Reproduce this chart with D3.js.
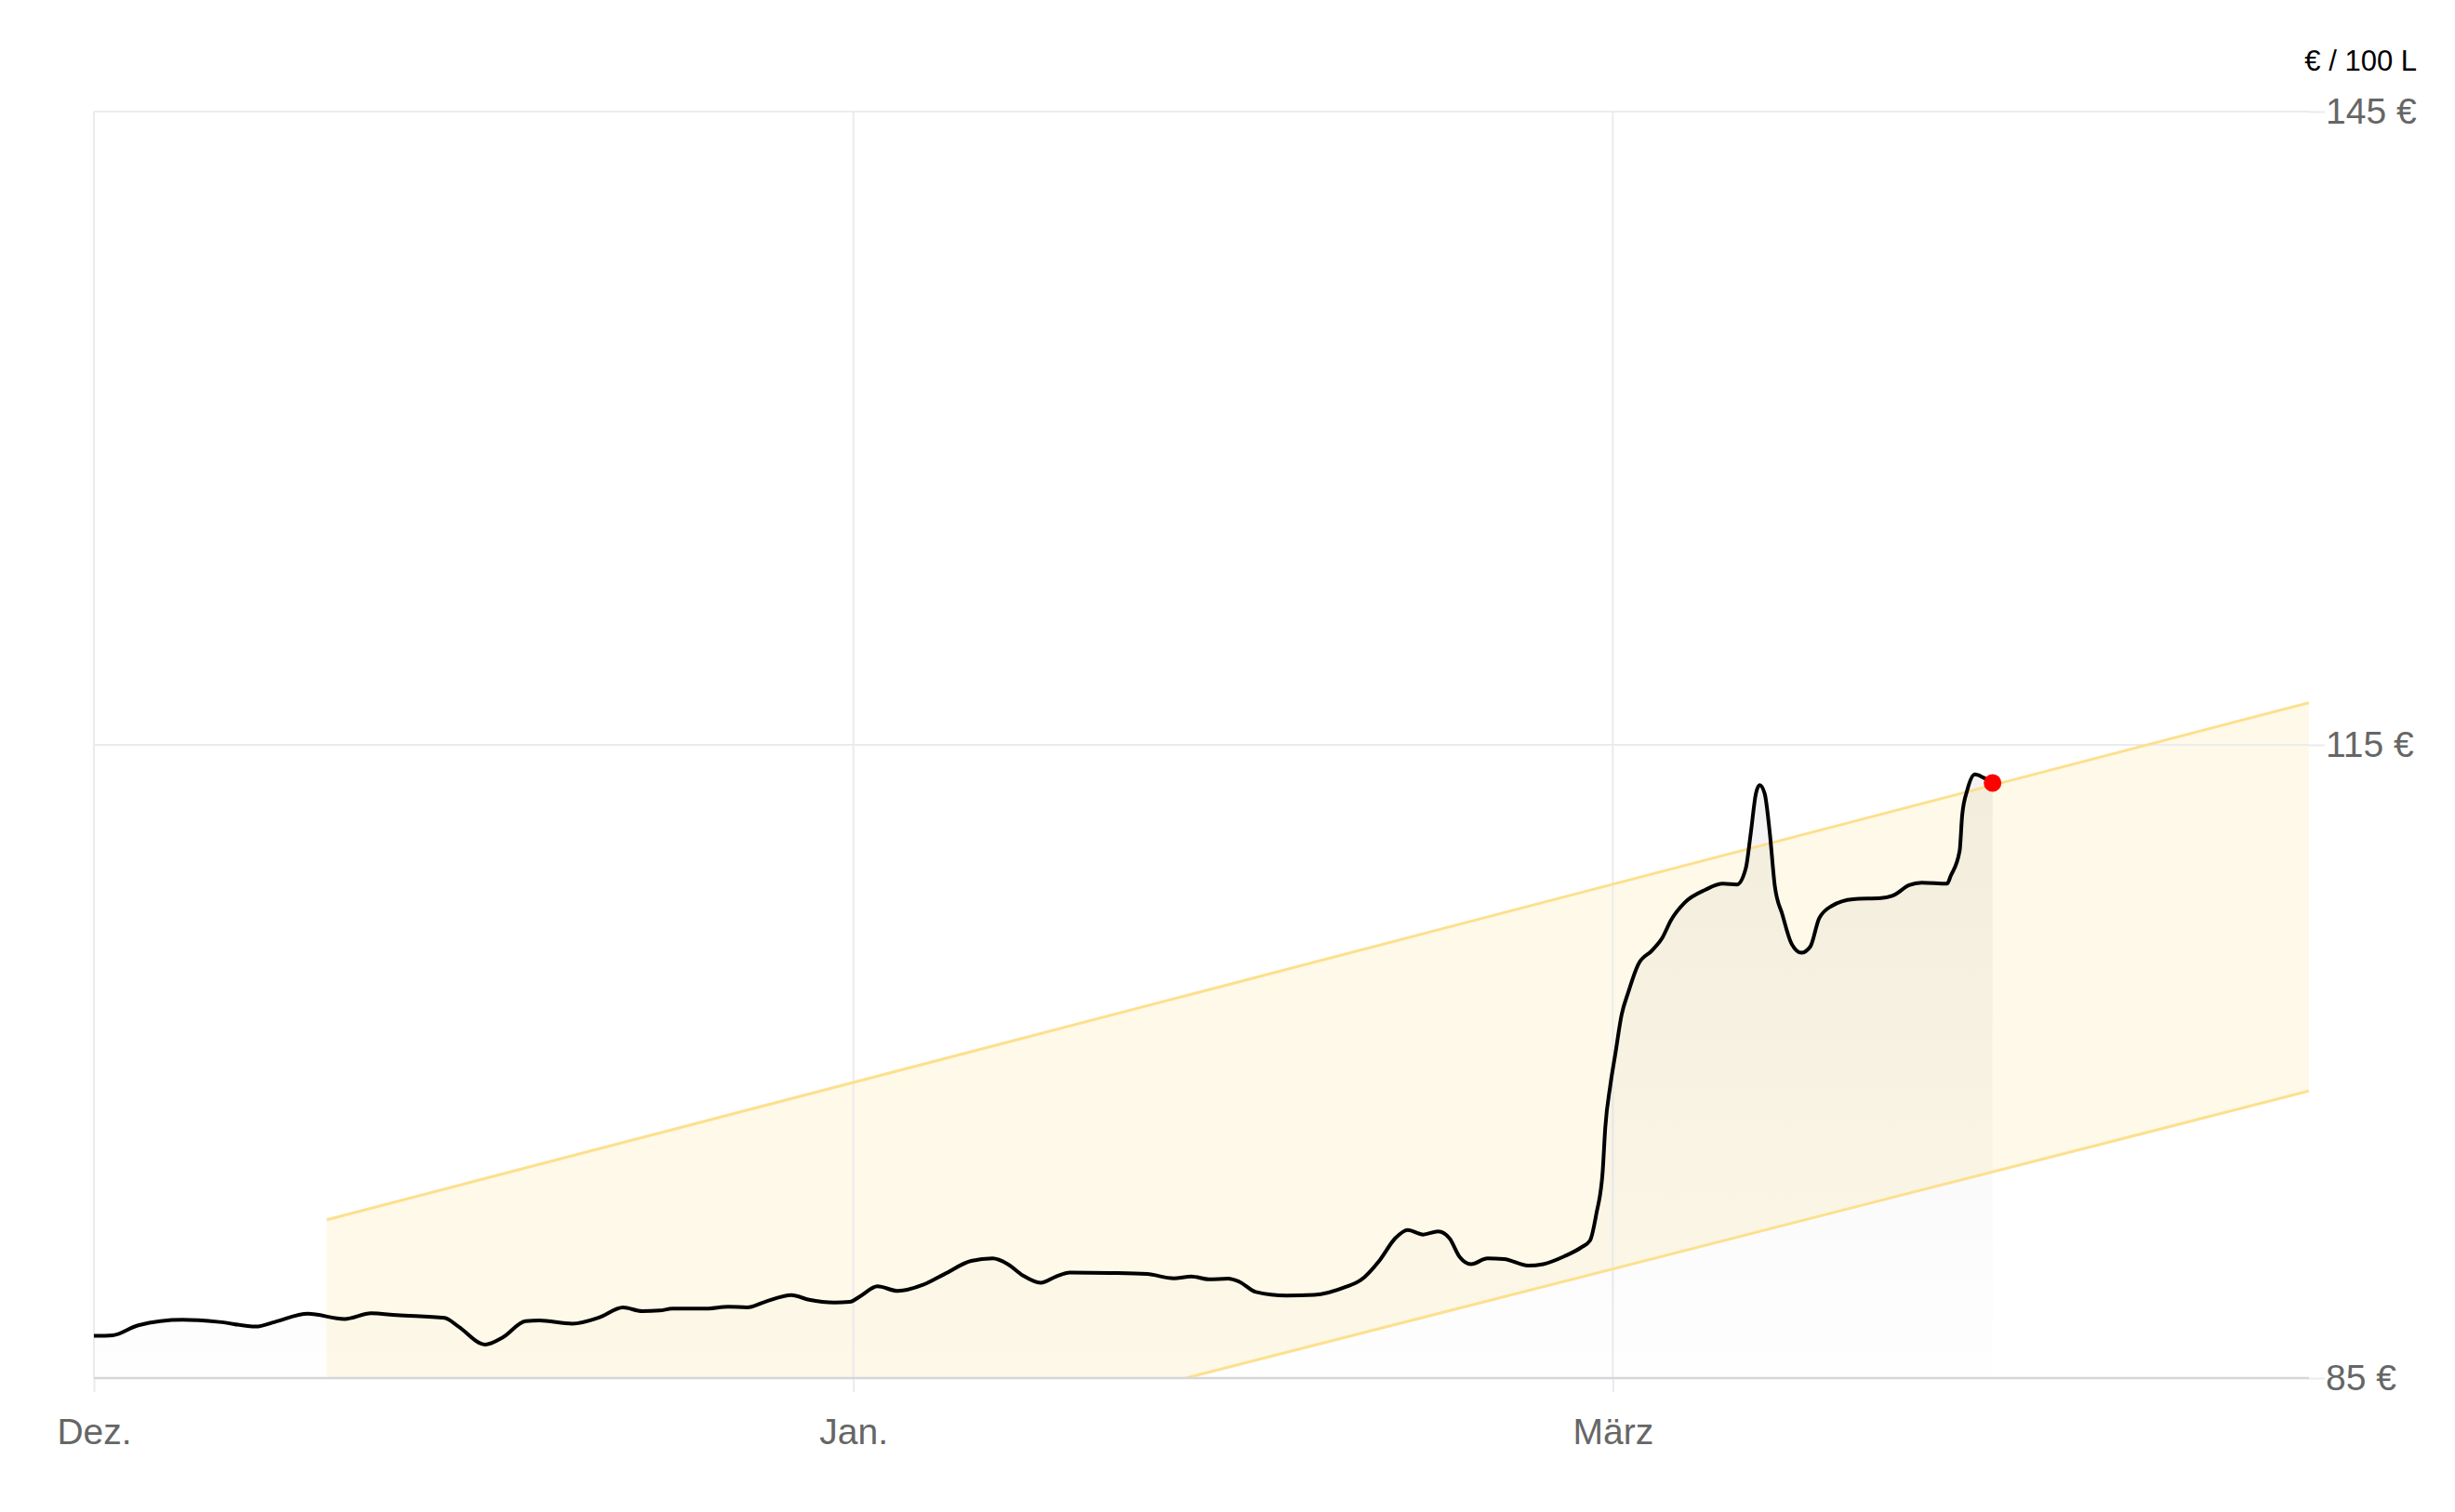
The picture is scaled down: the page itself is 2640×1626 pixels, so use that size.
<!DOCTYPE html>
<html>
<head>
<meta charset="utf-8">
<script src="https://cdn.jsdelivr.net/npm/d3@7"></script>
<style>
  body { margin: 0; background: #fff; }
  svg text { font-family: "Liberation Sans", Arial, sans-serif; }
</style>
</head>
<body>
<div id="chart"></div>
<script>
// price series (day index, € / 100 L)
var days = [0, 1.5, 3.5, 7.0, 9.9, 12.8, 14.3, 16.9, 19.8, 21.9, 23.9, 27.7, 28.8, 30.9, 32.3, 34.1, 35.2, 37.8, 39.9, 41.8, 43.3, 44.7,
  45.7, 48.4, 50.1, 51.6, 53.0, 55.1, 56.5, 58.5, 59.7, 60.6, 61.9, 63.5, 65.5, 67.2, 69.3, 71.0, 72.2, 73.4, 74.8, 76.0, 77.1,
  80.3, 83.2, 85.3, 86.7, 88.1, 89.6, 90.5, 91.8, 94.2, 96.4, 98.9, 100.1, 101.6, 102.8, 103.8, 105.0, 106.2, 107.1, 107.9,
  108.8, 110.1, 111.4, 113.3, 114.5, 116.2, 117.5, 118.2, 118.7, 119.2, 119.4, 119.8, 120.2, 120.7, 121.2, 122.0, 123.1,
  123.9, 124.6, 125.7, 127.3, 128.7, 129.8, 130.5, 130.9, 131.3, 131.6, 132.0, 132.4, 132.8, 133.4, 134.1, 134.9, 135.6,
  136.3, 137.3, 139.0, 141.2, 142.2, 143.4, 144.4, 146.4, 146.7, 147.4, 147.6, 148.0, 148.6, 149.3, 150.0];
var prices = [87.0, 87.03, 87.5, 87.76, 87.66, 87.44, 87.66, 88.05, 87.8, 88.07, 87.98, 87.85, 87.44, 86.59, 86.93, 87.7, 87.73, 87.58, 87.87, 88.35, 88.17, 88.2,
  88.29, 88.29, 88.38, 88.35, 88.61, 88.93, 88.71, 88.58, 88.61, 88.9, 89.35, 89.13, 89.42, 89.93, 90.55, 90.67, 90.4, 89.86, 89.52, 89.81, 90.0,
  89.98, 89.93, 89.73, 89.81, 89.68, 89.71, 89.56, 89.08, 88.91, 88.94, 89.32, 89.65, 90.6, 91.62, 92.02, 91.8, 91.95, 91.62, 90.74,
  90.4, 90.67, 90.64, 90.33, 90.4, 90.78, 91.19, 91.52, 92.79, 94.81, 96.84, 98.86, 100.37, 102.23, 103.24, 104.59, 105.26,
  105.85, 106.7, 107.54, 108.13, 108.42, 108.38, 109.14, 110.83, 112.68, 113.1, 112.68, 110.83, 108.3, 106.95, 105.6, 105.15, 105.44,
  106.78, 107.37, 107.69, 107.74, 107.88, 108.35, 108.47, 108.42, 108.8, 109.98, 111.67, 112.85, 113.6, 113.44, 113.19];

// forecast corridor
var bandDays = [18.4, 175];
var bandUpper = [92.5, 117.0];
var bandLower = [74.6, 98.6];

// axes
var xTickDays = [0, 60, 120];
var xTickLabels = ["Dez.", "Jan.", "März"];
var yTicks = [85, 115, 145];
var unitLabel = "€ / 100 L";

var width = 2640, height = 1626;
var plot = { left: 101, right: 2483, top: 120, bottom: 1482 };

var svg = d3.select("#chart").append("svg")
    .attr("width", width)
    .attr("height", height);

var x = d3.scaleLinear().domain([0, 175]).range([plot.left, plot.right]);
var y = d3.scaleLinear().domain([85, 145]).range([plot.bottom, plot.top]);

var series = days.map(function (d, i) { return { d: d, v: prices[i] }; });
var band = bandDays.map(function (d, i) { return { d: d, hi: bandUpper[i], lo: bandLower[i] }; });

var defs = svg.append("defs");
defs.append("clipPath").attr("id", "plotclip")
    .append("rect")
    .attr("x", plot.left).attr("y", plot.top)
    .attr("width", plot.right - plot.left).attr("height", plot.bottom - plot.top);

var grad = defs.append("linearGradient")
    .attr("id", "areagrad")
    .attr("gradientUnits", "userSpaceOnUse")
    .attr("x1", 0).attr("x2", 0)
    .attr("y1", y(d3.max(prices))).attr("y2", plot.bottom);
grad.append("stop").attr("offset", "0%").attr("stop-color", "#000").attr("stop-opacity", 0.05);
grad.append("stop").attr("offset", "100%").attr("stop-color", "#000").attr("stop-opacity", 0.004);

// corridor fill
svg.append("path")
    .datum(band)
    .attr("clip-path", "url(#plotclip)")
    .attr("fill", "#fef9e8")
    .attr("d", d3.area().x(function (d) { return x(d.d); })
        .y0(function (d) { return y(d.lo); })
        .y1(function (d) { return y(d.hi); }));

// horizontal grid
svg.append("g").selectAll("line")
    .data(yTicks.filter(function (t) { return t !== 85; }))
    .enter().append("line")
    .attr("x1", plot.left).attr("x2", plot.right)
    .attr("y1", function (d) { return y(d); }).attr("y2", function (d) { return y(d); })
    .attr("stroke", "#ebebef").attr("stroke-width", 2);

// vertical grid
svg.append("g").selectAll("line")
    .data(xTickDays)
    .enter().append("line")
    .attr("x1", function (d) { return x(d); }).attr("x2", function (d) { return x(d); })
    .attr("y1", plot.top).attr("y2", plot.bottom)
    .attr("stroke", "#ebebef").attr("stroke-width", 2);

// area under price line
svg.append("path")
    .datum(series)
    .attr("fill", "url(#areagrad)")
    .attr("d", d3.area().curve(d3.curveMonotoneX)
        .x(function (d) { return x(d.d); })
        .y0(plot.bottom)
        .y1(function (d) { return y(d.v); }));

// corridor edges
var bandG = svg.append("g").attr("clip-path", "url(#plotclip)");
["hi", "lo"].forEach(function (k) {
    bandG.append("path")
        .datum(band)
        .attr("fill", "none")
        .attr("stroke", "#fde08e")
        .attr("stroke-width", 3)
        .attr("d", d3.line().x(function (d) { return x(d.d); }).y(function (d) { return y(d[k]); }));
});

// x axis
var xAxis = svg.append("g")
    .attr("transform", "translate(0," + plot.bottom + ")")
    .call(d3.axisBottom(x).tickValues(xTickDays)
        .tickFormat(function (d, i) { return xTickLabels[i]; })
        .tickSize(15).tickPadding(28));
xAxis.select(".domain").remove();
xAxis.selectAll(".tick line").attr("stroke", "#ebebef").attr("stroke-width", 2);
xAxis.selectAll("text").attr("fill", "#666").attr("font-size", 39)
    .style("font-family", "'Liberation Sans', Arial, sans-serif");

// y axis on the right
var yAxis = svg.append("g")
    .attr("transform", "translate(" + plot.right + ",0)")
    .call(d3.axisRight(y).tickValues(yTicks)
        .tickFormat(function (d) { return d + " €"; })
        .tickSize(17).tickPadding(1));
yAxis.select(".domain").remove();
yAxis.selectAll(".tick line").attr("stroke", "#ebebef").attr("stroke-width", 2);
yAxis.selectAll("text").attr("fill", "#666").attr("font-size", 39)
    .style("font-family", "'Liberation Sans', Arial, sans-serif");

// baseline
svg.append("line")
    .attr("x1", plot.left).attr("x2", plot.right)
    .attr("y1", plot.bottom).attr("y2", plot.bottom)
    .attr("stroke", "#d5d5da").attr("stroke-width", 2.5);

// price line
svg.append("path")
    .datum(series)
    .attr("fill", "none")
    .attr("stroke", "#000")
    .attr("stroke-width", 4)
    .attr("stroke-linejoin", "round")
    .attr("d", d3.line().curve(d3.curveMonotoneX)
        .x(function (d) { return x(d.d); })
        .y(function (d) { return y(d.v); }));

// last value marker
var last = series[series.length - 1];
svg.append("circle")
    .attr("cx", x(last.d)).attr("cy", y(last.v))
    .attr("r", 9.5)
    .attr("fill", "#ff0000");

// unit label
svg.append("text")
    .attr("x", 2599).attr("y", 76)
    .attr("text-anchor", "end")
    .attr("font-size", 31)
    .attr("fill", "#000")
    .text(unitLabel);
</script>
</body>
</html>
